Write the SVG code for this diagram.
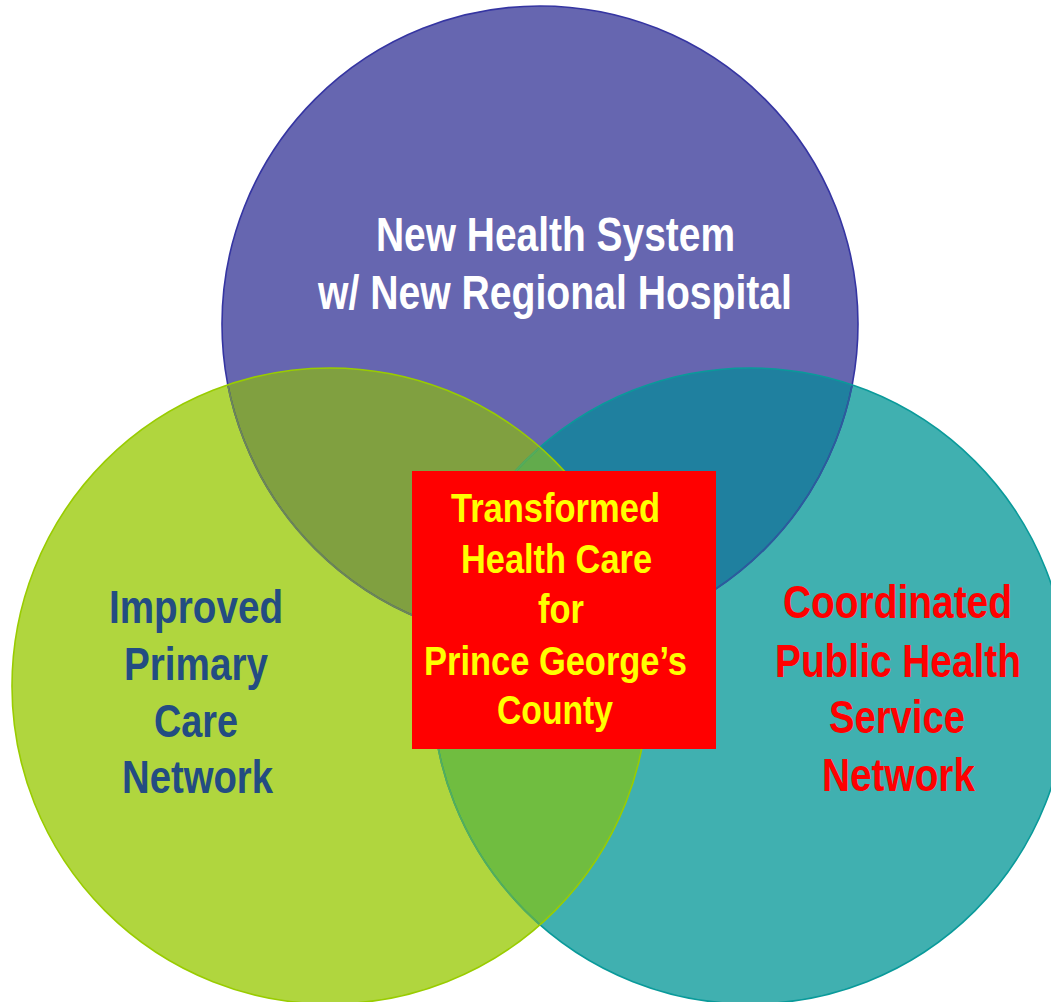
<svg xmlns="http://www.w3.org/2000/svg" width="1051" height="1002" viewBox="0 0 1051 1002">
  <defs>
    <clipPath id="cT"><circle cx="540" cy="324" r="318"/></clipPath>
    <clipPath id="cL"><circle cx="330" cy="686" r="318"/></clipPath>
    <clipPath id="cR"><circle cx="750" cy="686" r="318"/></clipPath>
    <style>
      .lbl { font-family: "Liberation Sans Narrow", "Liberation Sans", Arial, sans-serif; font-weight: bold; }
      .top { fill: #FFFFFF; font-size: 48px; }
      .left { fill: #234C82; font-size: 47px; }
      .right { fill: #FF0000; font-size: 47px; }
      .ctr { fill: #FFFF00; font-size: 41px; }
      .ring { fill: none; stroke-width: 1.6; }
    </style>
  </defs>
  <rect width="1051" height="1002" fill="#FFFFFF"/>

  <g id="node-top"><circle cx="540" cy="324" r="318" fill="#6666B0"/></g>
  <g id="node-right"><circle cx="750" cy="686" r="318" fill="#40B0B0"/></g>
  <g id="node-left"><circle cx="330" cy="686" r="318" fill="#B0D63E"/></g>

  <g id="overlaps">
    <g clip-path="url(#cT)">
      <circle cx="330" cy="686" r="318" fill="#80A040"/>
      <circle cx="750" cy="686" r="318" fill="#1F809F"/>
    </g>
    <g clip-path="url(#cL)">
      <circle cx="750" cy="686" r="318" fill="#70BD40"/>
    </g>
    <g clip-path="url(#cT)">
      <g clip-path="url(#cL)">
        <circle cx="750" cy="686" r="318" fill="#62AB4C"/>
      </g>
    </g>
  </g>

  <g id="outlines">
    <circle class="ring" cx="540" cy="324" r="318" stroke="#3535A2"/>
    <g clip-path="url(#cR)"><circle class="ring" cx="540" cy="324" r="318" stroke="#2C5E9C"/></g>
    <g clip-path="url(#cL)"><circle class="ring" cx="540" cy="324" r="318" stroke="#6E8A52"/></g>
    <circle class="ring" cx="750" cy="686" r="318" stroke="#0A9A9A"/>
    <g clip-path="url(#cL)"><circle class="ring" cx="750" cy="686" r="318" stroke="#58AE58"/></g>
    <circle class="ring" cx="330" cy="686" r="318" stroke="#99CC00"/>
  </g>

  <g id="connectors"/>

  <g id="label-top" class="lbl top">
    <text x="376" y="251" textLength="359" lengthAdjust="spacingAndGlyphs">New Health System</text>
    <text x="318" y="309" textLength="474" lengthAdjust="spacingAndGlyphs">w/ New Regional Hospital</text>
  </g>

  <g id="label-left" class="lbl left">
    <text x="109" y="623" textLength="174" lengthAdjust="spacingAndGlyphs">Improved</text>
    <text x="124" y="680" textLength="144" lengthAdjust="spacingAndGlyphs">Primary</text>
    <text x="154" y="737" textLength="84" lengthAdjust="spacingAndGlyphs">Care</text>
    <text x="122" y="793" textLength="151" lengthAdjust="spacingAndGlyphs">Network</text>
  </g>

  <g id="label-right" class="lbl right">
    <text x="783" y="618" textLength="229" lengthAdjust="spacingAndGlyphs">Coordinated</text>
    <text x="775" y="677" textLength="246" lengthAdjust="spacingAndGlyphs">Public Health</text>
    <text x="829" y="733" textLength="136" lengthAdjust="spacingAndGlyphs">Service</text>
    <text x="822" y="791" textLength="153" lengthAdjust="spacingAndGlyphs">Network</text>
  </g>

  <g id="node-center">
    <rect x="412" y="471" width="304" height="278" fill="#FF0000"/>
    <g class="lbl ctr">
      <text x="451" y="522" textLength="209" lengthAdjust="spacingAndGlyphs">Transformed</text>
      <text x="461" y="573" textLength="191" lengthAdjust="spacingAndGlyphs">Health Care</text>
      <text x="538" y="623" textLength="46" lengthAdjust="spacingAndGlyphs">for</text>
      <text x="424" y="675" textLength="263" lengthAdjust="spacingAndGlyphs">Prince George’s</text>
      <text x="497" y="724" textLength="116" lengthAdjust="spacingAndGlyphs">County</text>
    </g>
  </g>
</svg>
